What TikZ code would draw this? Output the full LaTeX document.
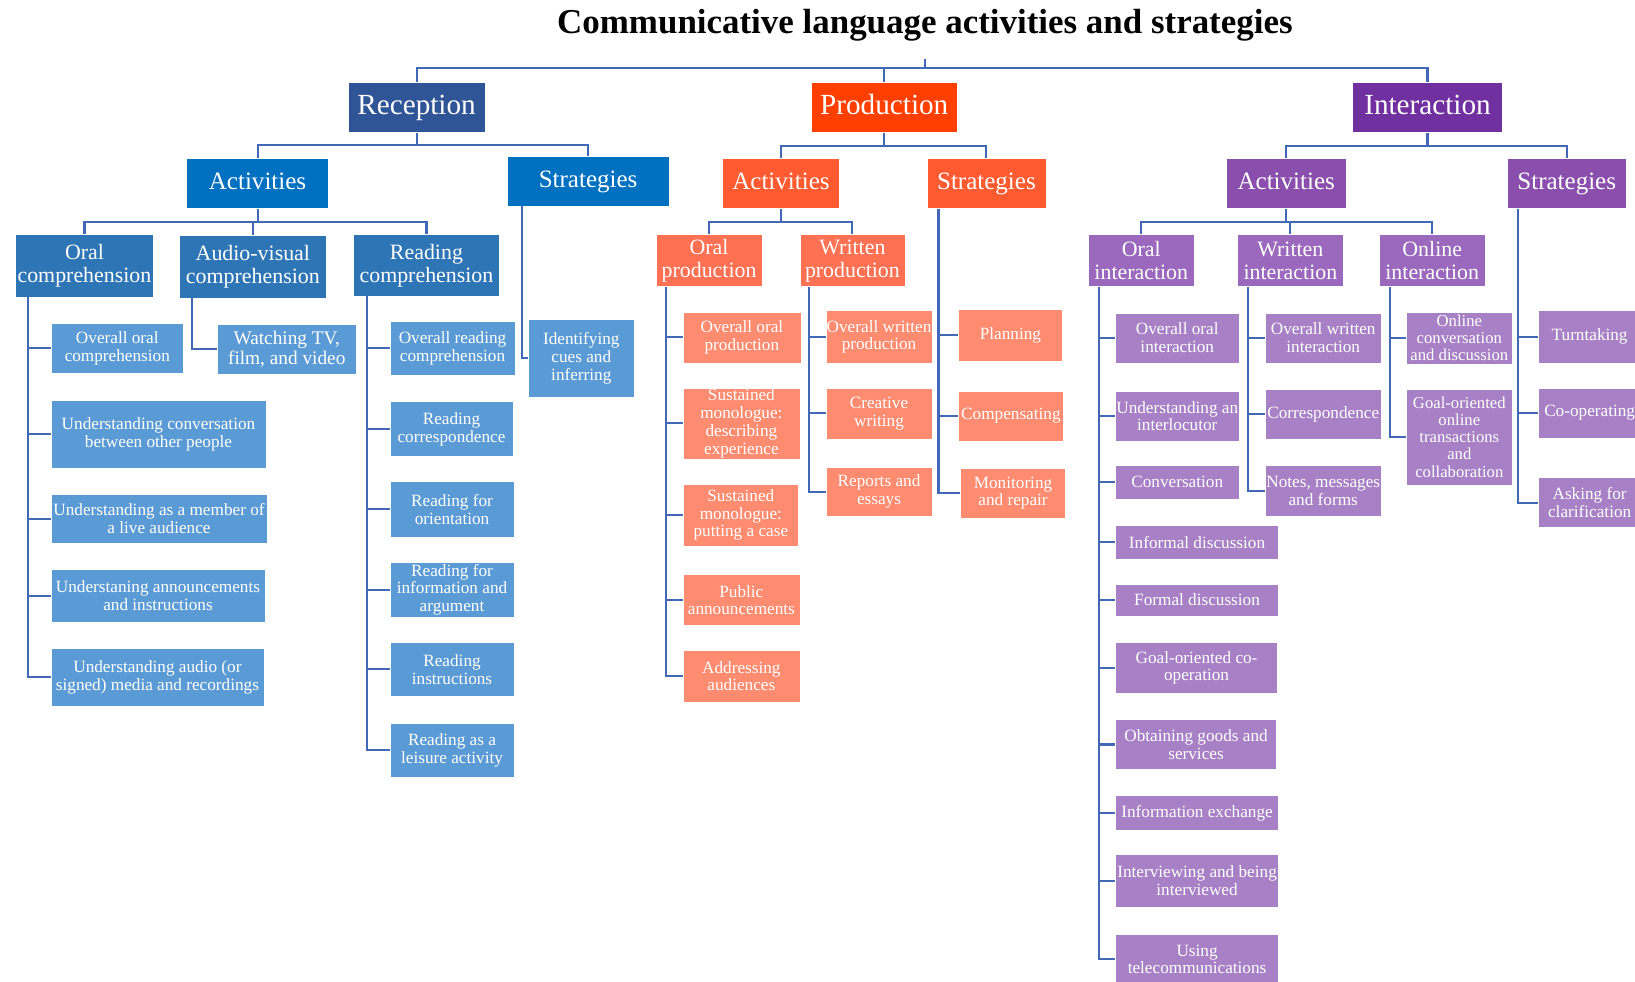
\documentclass[tikz,border=0pt]{standalone}
\usepackage{fontspec}
\setmainfont{Liberation Serif}
\usetikzlibrary{calc}
\definecolor{lnc}{HTML}{4169B8}
\definecolor{rA}{HTML}{2F5597}\definecolor{rB}{HTML}{0070C0}\definecolor{rC}{HTML}{2E75B6}\definecolor{rD}{HTML}{5B9BD5}
\definecolor{pA}{HTML}{FF3F00}\definecolor{pB}{HTML}{FF5A30}\definecolor{pC}{HTML}{FF7152}\definecolor{pD}{HTML}{FF8C70}
\definecolor{iA}{HTML}{7030A0}\definecolor{iB}{HTML}{8A4FAD}\definecolor{iC}{HTML}{9A68BC}\definecolor{iD}{HTML}{A880C5}
\tikzset{
  bx/.style={draw=white, line width=0.5pt, inner sep=0pt, text=white, align=center},
  fa/.style={bx, font=\fontsize{28}{30}\selectfont, minimum height=48, text height=19pt, text depth=6pt},
  fb/.style={bx, font=\fontsize{24}{26}\selectfont, minimum height=48, text height=16.5pt, text depth=5pt},
  fc/.style={bx, font=\fontsize{21}{22}\selectfont, minimum height=50},
  fd/.style={bx, font=\fontsize{16.5}{17}\selectfont},
  conn/.style={draw=lnc, line width=2pt},
}
\begin{document}
\begin{tikzpicture}[x=1pt,y=-1pt]
\useasboundingbox (0,0) rectangle (1568,941);
\clip (0,0) rectangle (1568,941);
\node[font=\bfseries\fontsize{33.5}{35}\selectfont, inner sep=0pt, text height=22.5pt, text depth=7pt] (title) at (887,24) {Communicative language activities and strategies};
% level 1
\node[fa, fill=rA, minimum width=131] (rec) at (399.5,103) {Reception};
\node[fa, fill=pA, minimum width=140] (prod) at (848,103) {Production};
\node[fa, fill=iA, minimum width=144] (int) at (1369,103) {Interaction};
\coordinate (tstub) at (887,57);
\coordinate (tbar) at (887,65);
\draw[conn] (tstub) -- (tbar);
\draw[conn] (tbar) -| (rec.north);
\draw[conn] (tbar) -| (prod.north);
\draw[conn] (tbar) -| (int.north);
% ===== Reception
\node[fb, fill=rB, minimum width=136] (recact) at (247,176) {Activities};
\node[fb, fill=rB, minimum width=156] (recstr) at (564,174) {Strategies};
\coordinate (recbar) at (399.5,139);
\draw[conn] (rec.south) -- (recbar) -| (recact.north);
\draw[conn] (recbar) -| (recstr.north);
\node[fc, fill=rC, minimum width=132, minimum height=60] (oc) at (81,255) {Oral\\comprehension};
\node[fc, fill=rC, minimum width=141, minimum height=60] (av) at (242.5,256) {Audio-visual\\comprehension};
\node[fc, fill=rC, minimum width=140, minimum height=59] (rc) at (409,254.5) {Reading\\comprehension};
\coordinate (rabar) at (247,213);
\draw[conn] (recact.south) -- (rabar) -| (oc.north);
\draw[conn] (rabar) -| (av.north);
\draw[conn] (rabar) -| (rc.north);
\node[fd, fill=rD, minimum width=101, minimum height=75] (ici) at (557.5,343.5) {Identifying\\cues and\\inferring};
\coordinate (rsv) at (501,198);
\draw[conn] (rsv) |- (ici.west);
% oral comprehension
\node[fd, fill=rD, minimum width=127, minimum height=48] (oc1) at (112.5,334) {Overall oral\\comprehension};
\node[fd, fill=rD, minimum width=206, minimum height=65] (oc2) at (152,416.5) {Understanding conversation\\between other people};
\node[fd, fill=rD, minimum width=207, minimum height=47] (oc3) at (152.5,497.5) {Understanding as a member of\\a live audience};
\node[fd, fill=rD, minimum width=205, minimum height=51] (oc4) at (151.5,571.5) {Understaning announcements\\and instructions};
\node[fd, fill=rD, minimum width=204, minimum height=55] (oc5) at (151,649.5) {Understanding audio (or\\signed) media and recordings};
\coordinate (ocv) at (27,285);
\foreach \n in {oc1,oc2,oc3,oc4,oc5} \draw[conn] (ocv) |- (\n.west);
% audio-visual
\node[bx, font=\fontsize{18.5}{19}\selectfont, fill=rD, minimum width=134, minimum height=48] (av1) at (275,335) {Watching TV,\\film, and video};
\coordinate (avv) at (184,286);
\draw[conn] (avv) |- (av1.west);
% reading
\node[fd, fill=rD, minimum width=120, minimum height=52] (rc1) at (434,334) {Overall reading\\comprehension};
\node[fd, fill=rD, minimum width=118, minimum height=53] (rc2) at (433,411.5) {Reading\\correspondence};
\node[fd, fill=rD, minimum width=119, minimum height=53] (rc3) at (433.5,488.5) {Reading for\\orientation};
\node[fd, fill=rD, minimum width=119, minimum height=53] (rc4) at (433.5,565.5) {Reading for\\information and\\argument};
\node[fd, fill=rD, minimum width=119, minimum height=52] (rc5) at (433.5,642) {Reading\\instructions};
\node[fd, fill=rD, minimum width=119, minimum height=51] (rc6) at (433.5,719.5) {Reading as a\\leisure activity};
\coordinate (rcv) at (352,284);
\foreach \n in {rc1,rc2,rc3,rc4,rc5,rc6} \draw[conn] (rcv) |- (\n.west);
% ===== Production
\node[fb, fill=pB, minimum width=112] (pact) at (749,176) {Activities};
\node[fb, fill=pB, minimum width=114] (pstr) at (946,176) {Strategies};
\coordinate (pbar) at (848,140);
\draw[conn] (prod.south) -- (pbar) -| (pact.north);
\draw[conn] (pbar) -| (pstr.north);
\node[fc, fill=pC, minimum width=102] (op) at (680,250) {Oral\\production};
\node[fc, fill=pC, minimum width=101] (wp) at (817.5,250) {Written\\production};
\coordinate (pabar) at (749,213);
\draw[conn] (pact.south) -- (pabar) -| (op.north);
\draw[conn] (pabar) -| (wp.north);
\node[fd, fill=pD, minimum width=113, minimum height=49] (op1) at (711.5,323.5) {Overall oral\\production};
\node[fd, fill=pD, minimum width=112, minimum height=68] (op2) at (711,406) {Sustained\\monologue:\\describing\\experience};
\node[fd, fill=pD, minimum width=111, minimum height=60] (op3) at (710.5,494) {Sustained\\monologue:\\putting a case};
\node[fd, fill=pD, minimum width=112, minimum height=49] (op4) at (711,575.5) {Public\\announcements};
\node[fd, fill=pD, minimum width=112, minimum height=49] (op5) at (711,648.5) {Addressing\\audiences};
\coordinate (opv) at (639,275);
\foreach \n in {op1,op2,op3,op4,op5} \draw[conn] (opv) |- (\n.west);
\node[fd, fill=pD, minimum width=102, minimum height=50] (wp1) at (843,323) {Overall written\\production};
\node[fd, fill=pD, minimum width=102, minimum height=49] (wp2) at (843,396.5) {Creative\\writing};
\node[fd, fill=pD, minimum width=102, minimum height=47] (wp3) at (843,471.5) {Reports and\\essays};
\coordinate (wpv) at (776,275);
\foreach \n in {wp1,wp2,wp3} \draw[conn] (wpv) |- (\n.west);
\node[fd, fill=pD, minimum width=100, minimum height=49] (ps1) at (969,321.5) {Planning};
\node[fd, fill=pD, minimum width=101, minimum height=48] (ps2) at (969.5,399) {Compensating};
\node[fd, fill=pD, minimum width=101, minimum height=48] (ps3) at (971.5,473) {Monitoring\\and repair};
\coordinate (psv) at (900,200);
\foreach \n in {ps1,ps2,ps3} \draw[conn] (psv) |- (\n.west);
% ===== Interaction
\node[fb, fill=iB, minimum width=115] (iact) at (1233.5,176) {Activities};
\node[fb, fill=iB, minimum width=115] (istr) at (1502.5,176) {Strategies};
\coordinate (ibar) at (1369,140);
\draw[conn] (int.south) -- (ibar);
\draw[conn] (ibar) -| (iact.north);
\draw[conn] (ibar) -| (istr.north);
\node[fc, fill=iC, minimum width=101] (oi) at (1094.5,250) {Oral\\interaction};
\node[fc, fill=iC, minimum width=101] (wi) at (1237.5,250) {Written\\interaction};
\node[fc, fill=iC, minimum width=101] (oni) at (1373.5,250) {Online\\interaction};
\coordinate (iabar) at (1233.5,213);
\draw[conn] (iact.south) -- (iabar) -| (oi.north);
\draw[conn] (iabar) -| (wi.north);
\draw[conn] (iabar) -| (oni.north);
\node[fd, fill=iD, minimum width=118, minimum height=48] (oi1) at (1129,324) {Overall oral\\interaction};
\node[fd, fill=iD, minimum width=118, minimum height=48] (oi2) at (1129,399) {Understanding an\\interlocutor};
\node[fd, fill=iD, minimum width=118, minimum height=33] (oi3) at (1129,462.5) {Conversation};
\node[fd, fill=iD, minimum width=156, minimum height=32] (oi4) at (1148,520) {Informal discussion};
\node[fd, fill=iD, minimum width=156, minimum height=31] (oi5) at (1148,575.5) {Formal discussion};
\node[fd, fill=iD, minimum width=155, minimum height=49] (oi6) at (1147.5,640.5) {Goal-oriented co-\\operation};
\node[fd, fill=iD, minimum width=154, minimum height=48] (oi7) at (1147,714) {Obtaining goods and\\services};
\node[fd, fill=iD, minimum width=156, minimum height=33] (oi8) at (1148,779.5) {Information exchange};
\node[fd, fill=iD, minimum width=156, minimum height=51] (oi9) at (1148,844.5) {Interviewing and being\\interviewed};
\node[fd, fill=iD, minimum width=156, minimum height=48] (oi10) at (1148,920) {Using\\telecommunications};
\coordinate (oiv) at (1054,275);
\foreach \n in {oi1,oi2,oi3,oi4,oi5,oi6,oi7,oi8,oi9,oi10} \draw[conn] (oiv) |- (\n.west);
\node[fd, fill=iD, minimum width=112, minimum height=48] (wi1) at (1269,324) {Overall written\\interaction};
\node[fd, fill=iD, minimum width=112, minimum height=48] (wi2) at (1269,397) {Correspondence};
\node[fd, fill=iD, minimum width=112, minimum height=49] (wi3) at (1269,470.5) {Notes, messages\\and forms};
\coordinate (wiv) at (1197,275);
\foreach \n in {wi1,wi2,wi3} \draw[conn] (wiv) |- (\n.west);
\node[bx, font=\fontsize{16}{16.5}\selectfont, fill=iD, minimum width=101, minimum height=50] (on1) at (1399.5,324) {Online\\conversation\\and discussion};
\node[bx, font=\fontsize{16}{16.5}\selectfont, fill=iD, minimum width=101, minimum height=92] (on2) at (1399.5,419) {Goal-oriented\\online\\transactions\\and\\collaboration};
\coordinate (onv) at (1333,275);
\foreach \n in {on1,on2} \draw[conn] (onv) |- (\n.west);
\node[fd, fill=iD, minimum width=99, minimum height=50] (is1) at (1524.5,323) {Turntaking};
\node[fd, fill=iD, minimum width=99, minimum height=48] (is2) at (1524.5,396) {Co-operating};
\node[fd, fill=iD, minimum width=99, minimum height=48] (is3) at (1524.5,482) {Asking for\\clarification};
\coordinate (isv) at (1456,200);
\foreach \n in {is1,is2,is3} \draw[conn] (isv) |- (\n.west);
\end{tikzpicture}
\end{document}
